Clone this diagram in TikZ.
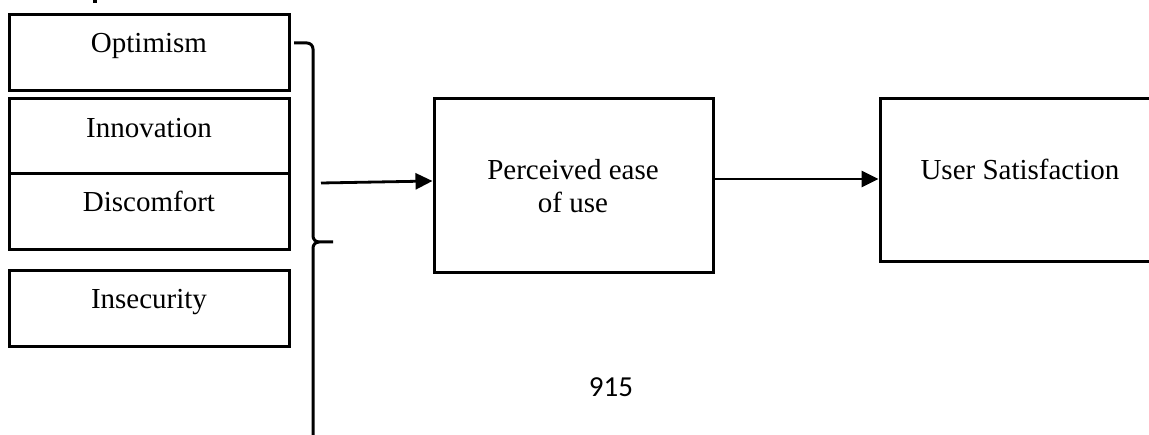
\documentclass[tikz,border=0pt]{standalone}
\usepackage{fontspec}
\setmainfont{Liberation Serif}
\newfontfamily\numfont{Carlito}
\usetikzlibrary{arrows.meta}

\tikzset{
  factor/.style={draw, line width=3pt, inner sep=0pt},
  label/.style={font=\fontsize{29}{33}\selectfont, inner sep=0pt, anchor=base, align=center},
  link/.style={line width=2.8pt, -{Triangle[length=17pt,width=16pt]}},
  brace/.style={line width=3pt, line cap=butt, line join=round}
}

\begin{document}
\begin{tikzpicture}[x=1pt, y=-1pt]
  \useasboundingbox (0,0) rectangle (1149,435);
  \clip (0,0) rectangle (1149,435);

  % descender of the heading above the figure
  \fill (93,0) rectangle (97,3);

  % predictor boxes
  \node[factor, minimum width=280pt, minimum height=76pt] (opt) at (149,53) {};
  \node[factor, minimum width=280pt, minimum height=75pt] (inn) at (149,136.5) {};
  \node[factor, minimum width=280pt, minimum height=76pt] (dis) at (149,212) {};
  \node[factor, minimum width=280pt, minimum height=76pt] (ins) at (149,309) {};

  \node[label] (optT) at (149,53) {Optimism};
  \node[label] (innT) at (149,138) {Innovation};
  \node[label] (disT) at (149,212) {Discomfort};
  \node[label] (insT) at (149,309) {Insecurity};

  % outcome boxes
  \node[factor, minimum width=279pt, minimum height=174pt] (peou) at (573.5,186) {};
  \node[factor, minimum width=290pt, minimum height=163pt] (sat) at (1025,180.5) {};

  \node[label] (peouT) at (573,213) {Perceived ease\\of use};
  \node[label] (satT) at (1020,180) {User Satisfaction};

  % grouping bracket
  \coordinate (bTop) at (294,43);
  \coordinate (bTip) at (333,242);
  \coordinate (bBot) at (313,440);
  \draw[brace] (bTop) -- (307,43) to[out=0,in=90] (313,49) -- (313,236)
    to[out=270,in=180] (319,242) -- (bTip);
  \draw[brace] (319,242) to[out=180,in=90] (313,248) -- (bBot);

  % connectors
  \coordinate (gOut) at (321,183);
  \draw[link] (gOut) -- (peou.west |- 0,181);
  \draw[link] (peou.east |- 0,179) -- (sat.west |- 0,179);

  % page number
  \node[font=\numfont\fontsize{29}{33}\selectfont, inner sep=0pt, anchor=base] (page) at (611,397) {915};
\end{tikzpicture}
\end{document}
